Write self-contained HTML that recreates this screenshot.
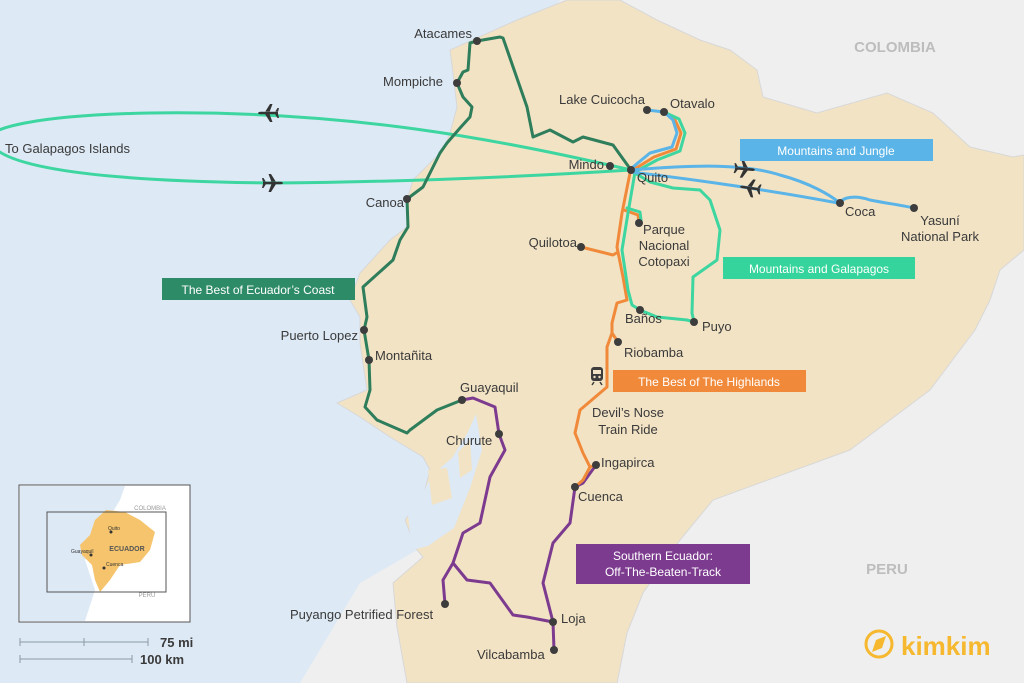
<!DOCTYPE html>
<html><head><meta charset="utf-8"><style>
html,body{margin:0;padding:0}
body{width:1024px;height:683px;overflow:hidden;background:#dde9f5}
svg{display:block}
text{font-family:"Liberation Sans",sans-serif}
.l{font-size:13px;fill:#3a3a3a}
.b{font-size:12px;fill:#fff;text-anchor:middle}
</style></head><body>
<svg width="1024" height="683" viewBox="0 0 1024 683">
<defs>
<path id="pl" d="M-10,-1.3 L8,-1.3 Q12,0 8,1.3 L-10,1.3 Z M3,-1 L-2,-9 L-4.5,-9 L-1.5,-1 Z M3,1 L-2,9 L-4.5,9 L-1.5,1 Z M-7,-1 L-9.5,-5 L-11,-5 L-10,-1 Z M-7,1 L-9.5,5 L-11,5 L-10,1 Z"/>
</defs>
<rect width="1024" height="683" fill="#dde9f5"/>
<polygon fill="#efefef" points="560,0 1024,0 1024,683 300,683 360,583 417,550 440,400 450,200"/>
<polygon fill="#f2e3c5" stroke="#d8d8d8" stroke-width="1" points="567,0 620,0 657,20 700,40 730,50 757,70 763,97 817,113 887,93 933,113 970,147 1013,157 1024,155 1024,250 1000,270 990,300 975,330 930,390 850,450 713,500 680,540 643,593 627,633 617,683 407,683 397,627 393,583 423,557 417,550 405,520 423,497 430,470 423,457 390,437 360,417 337,403 367,390 360,343 360,317 350,300 360,273 390,240 407,227 407,200 413,180 443,150 450,133 457,107 453,73 450,50 517,20"/>
<polygon fill="#dde9f5" points="432,475 452,458 468,432 476,414 482,450 470,488 454,528 428,546 412,550 408,515 422,495"/>
<polygon fill="#f2e3c5" points="428,470 447,468 452,498 432,505"/>
<polygon fill="#f2e3c5" points="458,452 470,440 472,470 460,478"/>
<g fill="none" stroke-linejoin="round" stroke-linecap="round" stroke-width="3">
<path stroke="#3dd6a0" d="M631,170 C500,140 350,110 150,113 C40,115 -20,128 -10,142 C0,165 80,181 273,183 C420,182 550,175 631,170"/>
<path stroke="#2e7d5b" d="M631,170 L613,145 L583,137 L573,142 L550,130 L533,137 L527,107 L503,38 L500,37 L477,41 L470,43 L468,70 L463,72 L457,83 L463,97 L472,107 L470,117 L460,128 L447,143 L440,153 L423,187 L407,199 L408,227 L400,240 L393,260 L363,287 L367,317 L364,330 L369,360 L370,390 L365,407 L377,420 L407,433 L410,430 L437,410 L462,400"/>
<path stroke="#7d3b8f" d="M462,400 L473,398 L495,407 L499,434 L505,450 L490,477 L480,523 L463,533 L453,563 L443,580 L445,604 M453,563 L467,580 L490,583 L513,615 L527,617 L553,622 L554,650 M553,622 L543,583 L553,543 L570,523 L575,487 L583,483 L596,465"/>
<path stroke="#f08a3a" d="M664,112 L675,120 L681,133 L676,149 L654,157 L633,170 L630,173 L622,213 L617,247 L623,277 L627,300 L617,303 L612,323 L612,333 L618,342 M612,333 L607,347 L607,387 L580,410 L575,433 L583,453 L590,467 L596,465 M590,467 L583,480 L575,487 M581,247 L593,250 L613,255 L618,252 M624,210 L638,215 L639,223"/>
<path stroke="#3dd6a0" d="M664,112 L679,119 L685,133 L680,151 L657,160 L635,172 L628,213 L622,250 L628,290 L632,305 L640,310 L657,317 L687,320 L694,322 L692,313 L693,277 L717,260 L720,230 L710,200 L700,190 L673,188 L650,182 L633,172 M627,208 L640,212 L641,220"/>
<path stroke="#5ab4e8" d="M647,110 L664,112 L673,120 L677,133 L672,147 L650,153 L633,167 L631,170 C680,166 740,162 780,175 C810,183 830,195 840,203 M631,172 C700,180 780,192 838,203 M840,203 C843,197 855,195 870,200 C885,203 900,205 914,208"/>
</g>
<g fill="#333">
<use href="#pl" transform="translate(268,113) scale(-1,1)"/>
<use href="#pl" transform="translate(273,183)"/>
<use href="#pl" transform="translate(745,169) rotate(5)"/>
<use href="#pl" transform="translate(750,188) scale(-1,1) rotate(-8)"/>
</g>
<g fill="#3d3d3d">
<circle cx="477" cy="41" r="4"/><circle cx="457" cy="83" r="4"/><circle cx="647" cy="110" r="4"/><circle cx="664" cy="112" r="4"/>
<circle cx="610" cy="166" r="4"/><circle cx="631" cy="170" r="4"/><circle cx="840" cy="203" r="4"/><circle cx="914" cy="208" r="4"/>
<circle cx="407" cy="199" r="4"/><circle cx="639" cy="223" r="4"/><circle cx="581" cy="247" r="4"/><circle cx="640" cy="310" r="4"/>
<circle cx="694" cy="322" r="4"/><circle cx="618" cy="342" r="4"/><circle cx="596" cy="465" r="4"/><circle cx="575" cy="487" r="4"/>
<circle cx="364" cy="330" r="4"/><circle cx="369" cy="360" r="4"/><circle cx="462" cy="400" r="4"/><circle cx="499" cy="434" r="4"/>
<circle cx="445" cy="604" r="4"/><circle cx="553" cy="622" r="4"/><circle cx="554" cy="650" r="4"/>
</g>
<g transform="translate(591,367)"><rect x="0" y="0" width="12" height="14" rx="3" fill="#3d3d3d"/><rect x="2" y="3" width="8" height="4" fill="#f2e3c5"/><circle cx="3.5" cy="10" r="1.2" fill="#f2e3c5"/><circle cx="8.5" cy="10" r="1.2" fill="#f2e3c5"/><path d="M1,18 L3,15 M11,18 L9,15" stroke="#3d3d3d" stroke-width="1.5"/></g>
<g class="l">
<text x="472" y="38" text-anchor="end">Atacames</text>
<text x="443" y="86" text-anchor="end">Mompiche</text>
<text x="559" y="104">Lake Cuicocha</text>
<text x="670" y="108">Otavalo</text>
<text x="5" y="153">To Galapagos Islands</text>
<text x="604" y="169" text-anchor="end">Mindo</text>
<text x="637" y="182">Quito</text>
<text x="845" y="216">Coca</text>
<text x="940" y="225" text-anchor="middle">Yasuní</text>
<text x="940" y="241" text-anchor="middle">National Park</text>
<text x="404" y="207" text-anchor="end">Canoa</text>
<text x="664" y="234" text-anchor="middle">Parque</text>
<text x="664" y="250" text-anchor="middle">Nacional</text>
<text x="664" y="266" text-anchor="middle">Cotopaxi</text>
<text x="577" y="247" text-anchor="end">Quilotoa</text>
<text x="625" y="323">Baños</text>
<text x="702" y="331">Puyo</text>
<text x="624" y="357">Riobamba</text>
<text x="628" y="417" text-anchor="middle">Devil’s Nose</text>
<text x="628" y="434" text-anchor="middle">Train Ride</text>
<text x="601" y="467">Ingapirca</text>
<text x="578" y="501">Cuenca</text>
<text x="358" y="340" text-anchor="end">Puerto Lopez</text>
<text x="375" y="360">Montañita</text>
<text x="460" y="392">Guayaquil</text>
<text x="446" y="445">Churute</text>
<text x="290" y="619">Puyango Petrified Forest</text>
<text x="561" y="623">Loja</text>
<text x="477" y="659">Vilcabamba</text>
</g>
<text x="895" y="52" text-anchor="middle" font-size="15" font-weight="bold" fill="#bdbdbd">COLOMBIA</text>
<text x="887" y="574" text-anchor="middle" font-size="15" font-weight="bold" fill="#bdbdbd">PERU</text>
<rect x="740" y="139" width="193" height="22" fill="#5ab4e8"/><text class="b" x="836" y="155">Mountains and Jungle</text>
<rect x="723" y="257" width="192" height="22" fill="#35d49c"/><text class="b" x="819" y="273">Mountains and Galapagos</text>
<rect x="162" y="278" width="193" height="22" fill="#2e8b67"/><text class="b" x="258" y="294">The Best of Ecuador’s Coast</text>
<rect x="613" y="370" width="193" height="22" fill="#f08a3a"/><text class="b" x="709" y="386">The Best of The Highlands</text>
<rect x="576" y="544" width="174" height="40" fill="#7d3b8f"/><text class="b" x="663" y="560">Southern Ecuador:</text><text class="b" x="663" y="576">Off-The-Beaten-Track</text>
<g>
<rect x="19" y="485" width="171" height="137" fill="#fff" stroke="#555" stroke-width="1"/>
<polygon fill="#dde9f5" points="20,486 125,486 120,500 108,520 95,540 85,560 95,590 85,621 20,621"/>
<polygon fill="#f5c46c" points="106,510 125,512 140,520 155,532 150,550 140,562 120,565 110,580 100,592 95,580 92,565 82,555 80,545 90,535 95,520"/>
<rect x="47" y="512" width="119" height="80" fill="none" stroke="#555" stroke-width="1"/>
<text x="150" y="510" font-size="6" fill="#999" text-anchor="middle">COLOMBIA</text>
<text x="147" y="597" font-size="6" fill="#999" text-anchor="middle">PERU</text>
<text x="127" y="551" font-size="7" fill="#555" text-anchor="middle" font-weight="bold">ECUADOR</text>
<circle cx="111" cy="532" r="1.5" fill="#333"/><text x="108" y="530" font-size="5" fill="#333">Quito</text>
<circle cx="91" cy="555" r="1.5" fill="#333"/><text x="71" y="553" font-size="5" fill="#333">Guayaquil</text>
<circle cx="104" cy="568" r="1.5" fill="#333"/><text x="106" y="566" font-size="5" fill="#333">Cuenca</text>
</g>
<g stroke="#8a9aa8" stroke-width="1">
<line x1="20" y1="642" x2="148" y2="642"/><line x1="20" y1="638" x2="20" y2="646"/><line x1="84" y1="638" x2="84" y2="646"/><line x1="148" y1="638" x2="148" y2="646"/>
<line x1="20" y1="659" x2="132" y2="659"/><line x1="20" y1="655" x2="20" y2="663"/><line x1="132" y1="655" x2="132" y2="663"/>
</g>
<text x="160" y="647" font-size="13" font-weight="bold" fill="#3a3a3a">75 mi</text>
<text x="140" y="664" font-size="13" font-weight="bold" fill="#3a3a3a">100 km</text>
<circle cx="879" cy="644" r="13" fill="none" stroke="#f5b82e" stroke-width="3"/>
<polygon points="886,636 882,648 872,652 876,640" fill="#f5b82e"/>
<text x="901" y="655" font-size="26" font-weight="bold" fill="#f5b82e">kimkim</text>
</svg>
</body></html>
